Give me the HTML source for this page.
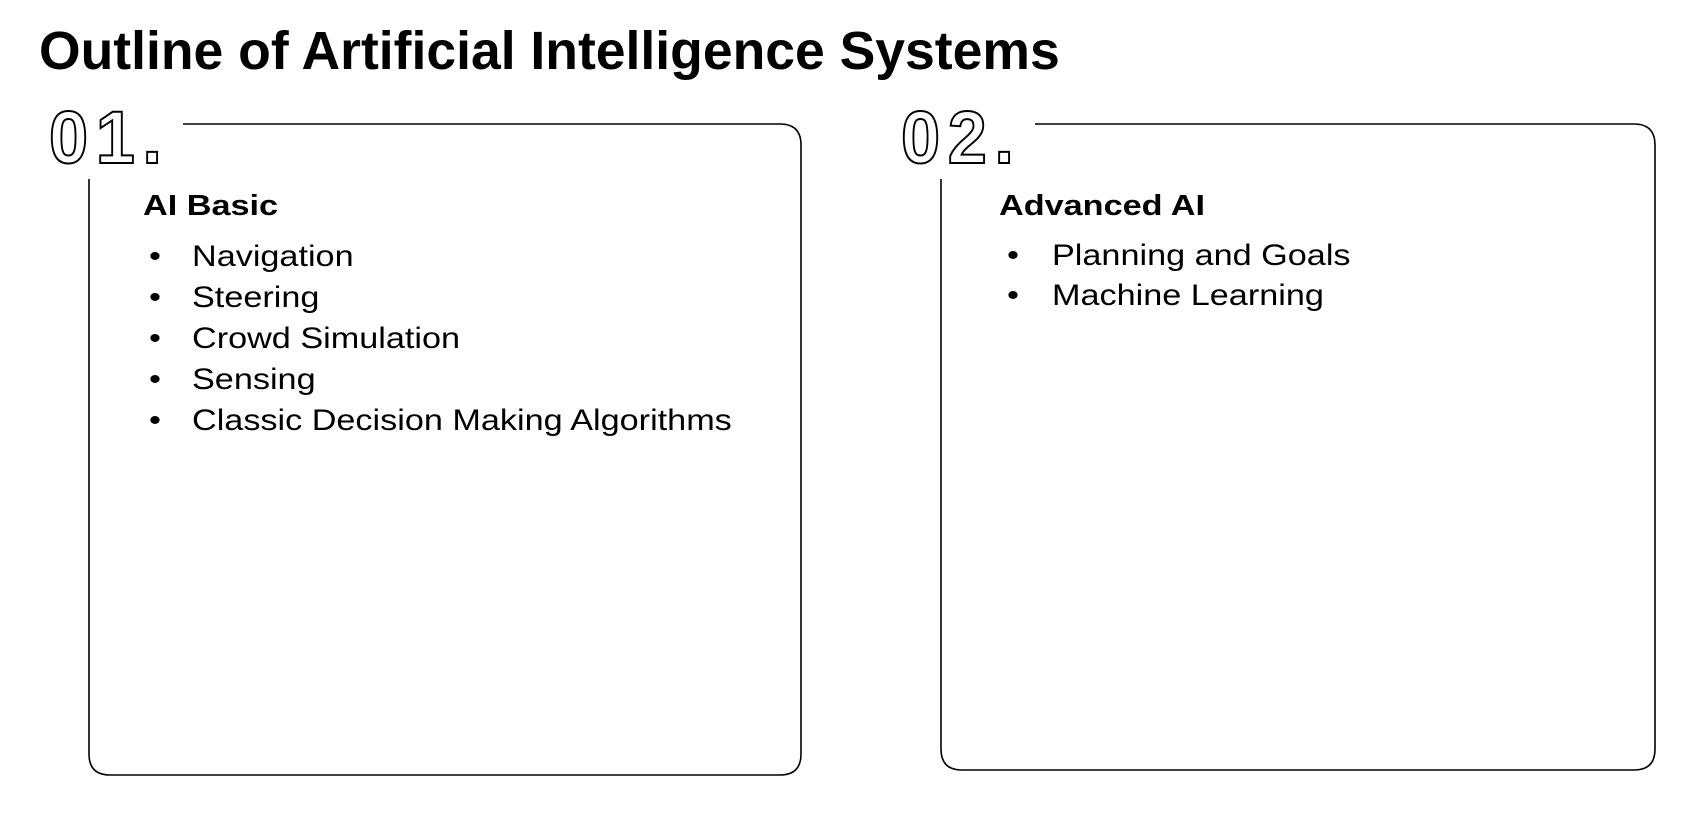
<!DOCTYPE html>
<html><head><meta charset="utf-8"><style>
body{margin:0;width:1681px;height:816px;background:#fff;position:relative;overflow:hidden;font-family:"Liberation Sans",Arial,sans-serif;color:#000}
.t{position:absolute;white-space:nowrap;transform-origin:0 0}
.title{left:39px;top:22px;font-size:53.5px;font-weight:bold;line-height:60px}
.num{font-size:74px;line-height:78px;font-weight:bold;color:#fff;-webkit-text-stroke:2px #000;letter-spacing:8px;transform:scaleX(0.95)}
.h{font-size:29px;font-weight:bold;line-height:32px;transform:scaleX(1.18)}
.li{font-size:30px;line-height:34px;transform:scaleX(1.14)}
</style></head><body>
<div class="t title">Outline of Artificial Intelligence Systems</div>
<svg width="1681" height="816" style="position:absolute;left:0;top:0">
<path d="M183 124 H780 Q801 124 801 145 V754 Q801 775 780 775 H110 Q89 775 89 754 V179" fill="none" stroke="#000" stroke-width="1.6"/>
<path d="M1035 124 H1634 Q1655 124 1655 145 V749 Q1655 770 1634 770 H962 Q941 770 941 749 V179" fill="none" stroke="#000" stroke-width="1.6"/>
</svg>
<div class="t num" style="left:49px;top:99px">01.</div>
<div class="t num" style="left:901px;top:99px">02.</div>
<div class="t h" style="left:143px;top:190px">AI Basic</div>
<div class="t li" style="left:149px;top:240px">•</div><div class="t li" style="left:192px;top:240px">Navigation</div>
<div class="t li" style="left:149px;top:281px">•</div><div class="t li" style="left:192px;top:281px">Steering</div>
<div class="t li" style="left:149px;top:322px">•</div><div class="t li" style="left:192px;top:322px">Crowd Simulation</div>
<div class="t li" style="left:149px;top:363px">•</div><div class="t li" style="left:192px;top:363px">Sensing</div>
<div class="t li" style="left:149px;top:404px">•</div><div class="t li" style="left:192px;top:404px">Classic Decision Making Algorithms</div>
<div class="t h" style="left:999px;top:190px">Advanced AI</div>
<div class="t li" style="left:1007px;top:239px">•</div><div class="t li" style="left:1052px;top:239px">Planning and Goals</div>
<div class="t li" style="left:1007px;top:279px">•</div><div class="t li" style="left:1052px;top:279px">Machine Learning</div>
</body></html>
